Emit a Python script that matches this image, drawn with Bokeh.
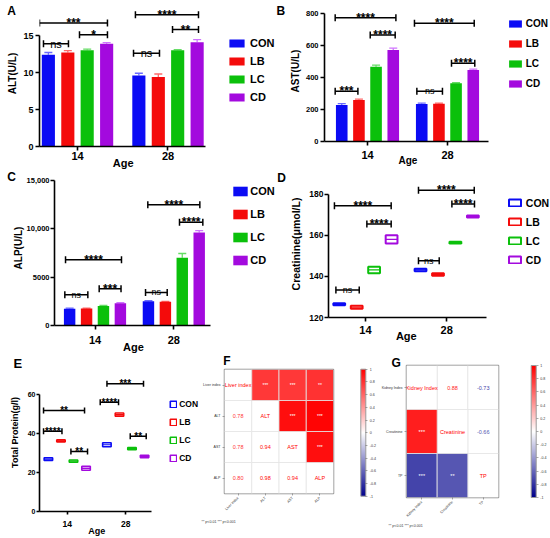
import math
from bokeh.plotting import figure
from bokeh.models import (Range1d, FixedTicker, Legend, LegendItem, ColumnDataSource, Title,
                          LinearColorMapper, ColorBar, Whisker, TeeHead, FactorRange,
                          PrintfTickFormatter)
from bokeh.layouts import row, column
from bokeh.transform import transform
from bokeh.core.properties import value
from bokeh.embed import file_html
from bokeh.resources import INLINE

FONT = "Liberation Sans"

# ----------------------------- data -----------------------------
groups = ["CON", "LB", "LC", "CD"]
age_labels = ["14", "28"]

# A  ALT (U/L)   order: CON, LB, LC, CD
alt_14 = [12.4, 12.7, 13.0, 13.9]
alt_28 = [9.6, 9.4, 13.0, 14.1]
alt_err_14 = [0.3, 0.25, 0.15, 0.15]
alt_err_28 = [0.3, 0.4, 0.1, 0.35]
alt_sig_x0 = [-0.376, 0.022, -0.42, 0.619, 1.05, 0.64]
alt_sig_x1 = [-0.10, 0.331, 0.331, 0.906, 1.337, 1.337]
alt_sig_y = [13.9, 15.1, 16.7, 12.6, 15.8, 17.8]
alt_sig_txt = ["ns", "*", "***", "ns", "**", "****"]

# B  AST (U/L)
ast_14 = [229, 260, 469, 573]
ast_28 = [235, 237, 365, 448]
ast_err_14 = [8, 6, 10, 12]
ast_err_28 = [5, 4, 3, 6]
ast_sig_x0 = [-0.404, 0.034, -0.404, 0.587, 0.617, 1.05]
ast_sig_x1 = [0.355, 0.346, -0.12, 1.334, 0.937, 1.341]
ast_sig_y = [775, 668, 315, 741, 315, 490]
ast_sig_txt = ["****", "****", "***", "****", "ns", "****"]

# C  ALP (U/L)
alp_14 = [1740, 1760, 2030, 2310]
alp_28 = [2520, 2450, 7000, 9620]
alp_err_14 = [50, 40, 40, 60]
alp_err_28 = [60, 50, 450, 200]
alp_sig_x0 = [-0.383, 0.053, -0.374, 0.641, 1.072, 0.67]
alp_sig_x1 = [-0.091, 0.33, 0.336, 0.916, 1.368, 1.33]
alp_sig_y = [3176, 3793, 6793, 3414, 10690, 12483]
alp_sig_txt = ["ns", "***", "****", "ns", "****", "****"]
alp_tick_labels = {0: "0", 5000: "5000", 10000: "10,000", 15000: "15,000"}

# D  Creatinine (umol/L) floating bars
cre_14 = [126.5, 125.0, 143.2, 158.1]
cre_28 = [143.2, 141.0, 156.5, 169.3]
cre_err_14 = [0.5, 0.7, 1.6, 2.0]
cre_err_28 = [0.6, 0.6, 0.4, 0.5]
cre_sig_x0 = [-0.363, 0.018, -0.381, 0.653, 1.064, 0.653]
cre_sig_x1 = [-0.076, 0.317, 0.317, 0.908, 1.342, 1.339]
cre_sig_y = [133.4, 165.6, 174.5, 147.7, 175.3, 182.1]
cre_sig_txt = ["ns", "****", "****", "ns", "****", "****"]

# E  Total protein (g/l) floating bars
tp_14 = [26.9, 36.3, 25.9, 22.2]
tp_28 = [34.3, 49.8, 32.3, 28.3]
tp_err_14 = [0.7, 0.5, 0.6, 1.0]
tp_err_28 = [1.0, 0.8, 0.6, 0.6]
tp_sig_x0 = [-0.405, -0.405, 0.063, 0.564, 0.679, 1.077]
tp_sig_x1 = [-0.09, 0.296, 0.347, 0.877, 1.304, 1.35]
tp_sig_y = [41.3, 51.9, 30.8, 56.2, 65.6, 38.7]
tp_sig_txt = ["****", "**", "**", "****", "***", "**"]

# F  liver correlations, pairs (0,1),(0,2),(0,3),(1,2),(1,3),(2,3)
liver_vars = ["Liver index", "ALT", "AST", "ALP"]
liver_pair_r = [0.78, 0.78, 0.80, 0.94, 0.98, 0.94]
liver_pair_sig = ["***", "***", "**", "***", "***", "***"]

# G  kidney correlations, pairs (0,1),(0,2),(1,2)
kidney_vars = ["Kidney Index", "Creatinine", "TP"]
kidney_pair_r = [0.88, -0.73, -0.66]
kidney_pair_sig = ["***", "***", "**"]

cbar_ticks = [-1, -0.8, -0.6, -0.4, -0.2, 0, 0.2, 0.4, 0.6, 0.8, 1]
footnote = "** p<0.01  *** p<0.001"

# ----------------------------- style -----------------------------
colors = ["#0b0bf4", "#f40b0b", "#0bc00b", "#a30ade"]
err_colors = ["#6a6aff", "#ff6a6a", "#66dd66", "#cf73ff"]
offsets = [-0.322, -0.107, 0.107, 0.322]
BAR_W = 0.145


def make_palette():
    lo, mid, hi = (0x00, 0x00, 0x8B), (255, 255, 255), (0xFF, 0x00, 0x00)
    pal = []
    for k in range(256):
        t = k / 255
        a, b, u = (lo, mid, t / 0.5) if t < 0.5 else (mid, hi, (t - 0.5) / 0.5)
        pal.append("#%02x%02x%02x" % tuple(round(a[c] + (b[c] - a[c]) * u) for c in range(3)))
    return pal


PALETTE = make_palette()
BLANK_MAPPER = LinearColorMapper(palette=["#ffffff"], low=0, high=1)


def base(W, H, bl, bt, br, bb, xr, yr):
    p = figure(width=W, height=H, x_range=xr, y_range=yr,
               output_backend="svg", toolbar_location=None, frame_align=False,
               min_border_left=bl, min_border_top=bt, min_border_right=br, min_border_bottom=bb)
    p.outline_line_color = None
    p.xgrid.visible = False
    p.ygrid.visible = False
    p.background_fill_color = "white"
    p.border_fill_color = "white"
    return p


def tag(p, txt, left, cy, fs, bold=True, color="black"):
    """Free text placed outside the frame (px from frame bottom-left): the title of an
    empty, invisible horizontal colour bar, which Bokeh does not clip to the frame."""
    cb = ColorBar(color_mapper=BLANK_MAPPER, orientation="horizontal",
                  location=(left, cy - 1 - 0.56 * fs), width=1, height=1,
                  padding=0, margin=0, title=txt, title_standoff=0,
                  title_text_font=FONT, title_text_font_size=f"{fs}px",
                  title_text_font_style="bold" if bold else "normal", title_text_color=color,
                  ticker=FixedTicker(ticks=[]), major_tick_line_color=None,
                  minor_tick_line_color=None, major_label_text_alpha=0, bar_line_color=None,
                  scale_alpha=0, background_fill_alpha=0, border_line_color=None)
    p.add_layout(cb)


def ytitle(p, txt, fs, standoff, offset):
    p.add_layout(Title(text=txt, align="center", offset=offset, standoff=standoff,
                       text_font=FONT, text_font_style="bold", text_font_size=f"{fs}px",
                       text_color="black"), "left")


def style_axes(p, xb, yb, yticks, ytfs, xtfs, y_sd, x_sd, yover=None, tick_out=4):
    xa, ya = p.xaxis[0], p.yaxis[0]
    xa.ticker = FixedTicker(ticks=[0, 1])
    xa.major_label_overrides = {0: age_labels[0], 1: age_labels[1]}
    xa.bounds = xb
    ya.bounds = yb
    ya.ticker = FixedTicker(ticks=yticks)
    if yover:
        ya.major_label_overrides = yover
    for ax in (xa, ya):
        ax.axis_line_width = 1.6
        ax.axis_line_color = "black"
        ax.major_tick_line_width = 1.6
        ax.major_tick_in = 0
        ax.major_tick_out = tick_out
        ax.minor_tick_line_color = None
        ax.major_label_text_font = FONT
        ax.major_label_text_font_style = "bold"
        ax.major_label_text_color = "black"
    ya.major_label_text_font_size = f"{ytfs}px"
    xa.major_label_text_font_size = f"{xtfs}px"
    ya.major_label_standoff = y_sd
    xa.major_label_standoff = x_sd


def bars(p, m14, m28, e14, e28, head=8):
    rends = []
    for k in range(4):
        xs = [0 + offsets[k], 1 + offsets[k]]
        tops = [m14[k], m28[k]]
        ups = [m14[k] + e14[k], m28[k] + e28[k]]
        src = ColumnDataSource(dict(x=xs, top=tops, up=ups))
        w = Whisker(base="x", lower="top", upper="up", source=src, line_color=err_colors[k],
                    line_width=1.3, lower_head=None,
                    upper_head=TeeHead(size=head, line_color=err_colors[k], line_width=1.3))
        p.add_layout(w)
        r = p.vbar(x="x", top="top", bottom=0, width=BAR_W, source=src,
                   fill_color=colors[k], line_color=None)
        rends.append(r)
    return rends


def floats(p, m14, m28, e14, e28, lw=1.8):
    rends = []
    for k in range(4):
        xs = [0 + offsets[k], 1 + offsets[k]]
        ms = [m14[k], m28[k]]
        es = [e14[k], e28[k]]
        src = ColumnDataSource(dict(
            x=xs, m=ms,
            lo=[m - e for m, e in zip(ms, es)], hi=[m + e for m, e in zip(ms, es)],
            x0=[x - BAR_W / 2 for x in xs], x1=[x + BAR_W / 2 for x in xs]))
        r = p.vbar(x="x", bottom="lo", top="hi", width=BAR_W, source=src,
                   fill_color=None, line_color=colors[k], line_width=lw)
        p.segment(x0="x0", x1="x1", y0="m", y1="m", source=src, line_color=colors[k], line_width=1.2)
        rends.append(r)
    return rends


def sig(p, x0, x1, y, txt, star_fs, ns_fs, cap=7):
    p.segment(x0=x0, x1=x1, y0=y, y1=y, line_color="black", line_width=1.5)
    p.scatter(x=list(x0) + list(x1), y=list(y) + list(y), marker="dash", size=cap,
              angle=math.pi / 2, line_color="black", line_width=1.5)
    mids = [(a + b) / 2 for a, b in zip(x0, x1)]
    st = [(m, yy, t) for m, yy, t in zip(mids, y, txt) if t != "ns"]
    ns = [(m, yy, t) for m, yy, t in zip(mids, y, txt) if t == "ns"]
    p.text(x=[s[0] for s in st], y=[s[1] for s in st], text=[s[2] for s in st],
           text_font=value(FONT), text_font_style="bold", text_font_size=f"{star_fs}px",
           text_align="center", text_baseline="middle", text_color="black")
    if ns:
        p.text(x=[s[0] for s in ns], y=[s[1] for s in ns], text=[s[2] for s in ns],
               text_font=value(FONT), text_font_size=f"{ns_fs}px",
               text_align="center", text_baseline="alphabetic", text_color="black")


def legend(p, rends, x, ytop, pitch, gw, gh, fs, standoff):
    items = [LegendItem(label=g, renderers=[r]) for g, r in zip(groups, rends)]
    n = len(items)
    bottom = ytop - (n - 1) * pitch - pitch / 2
    lg = Legend(items=items, location=(x, bottom), orientation="vertical", padding=0, margin=0,
                spacing=0, label_height=int(round(pitch)), glyph_height=int(round(gh)),
                glyph_width=int(round(gw)), label_standoff=int(round(standoff)),
                label_text_font=FONT, label_text_font_style="bold",
                label_text_font_size=f"{fs}px", label_text_color="black",
                border_line_color=None, background_fill_alpha=0)
    p.add_layout(lg)


# ----------------------------- A -----------------------------
pA = base(275, 170, 39, 0, 0, 24, Range1d(-0.42, 2.188), Range1d(0, 19.73))
style_axes(pA, (-0.42, 1.414), (0, 15), [0, 5, 10, 15], 9, 11, 2, 1)
rA = bars(pA, alt_14, alt_28, alt_err_14, alt_err_28)
sig(pA, alt_sig_x0, alt_sig_x1, alt_sig_y, alt_sig_txt, 12, 11)
legend(pA, rA, 188.1, 103, 18, 19, 10, 11, 4)
ytitle(pA, "ALT(U/L)", 10, 6, -18)
tag(pA, "A", -32.3, 135, 12)
tag(pA, "Age", 73.3, -16, 11)

# ----------------------------- B -----------------------------
pB = base(275, 170, 49, 0, 0, 29, Range1d(-0.5375, 2.2875), Range1d(0, 883.5))
style_axes(pB, (-0.5375, 1.509), (0, 800), [0, 200, 400, 600, 800], 7.5, 11, 2, 5)
rB = bars(pB, ast_14, ast_28, ast_err_14, ast_err_28)
sig(pB, ast_sig_x0, ast_sig_x1, ast_sig_y, ast_sig_txt, 12, 9)
legend(pB, rB, 182.7, 118, 20, 16, 9, 10, 3)
ytitle(pB, "AST(U/L)", 10, 4, -3)
tag(pB, "B", -48, 130, 12)
tag(pB, "Age", 74, -19.3, 10)

# ----------------------------- C -----------------------------
pC = base(275, 183, 54, 0, 0, 28, Range1d(-0.514, 2.29), Range1d(0, 16034))
style_axes(pC, (-0.514, 1.466), (0, 15000), [0, 5000, 10000, 15000], 7.5, 11, 1, 6,
           yover=alp_tick_labels)
rC = bars(pC, alp_14, alp_28, alp_err_14, alp_err_28)
sig(pC, alp_sig_x0, alp_sig_x1, alp_sig_y, alp_sig_txt, 12, 9)
legend(pC, rC, 177.2, 133.7, 23, 18, 12, 11, 1)
ytitle(pC, "ALP(U/L)", 10, 0, -11)
tag(pC, "C", -47.3, 148, 12)
tag(pC, "Age", 68.6, -21.5, 11)

# ----------------------------- D -----------------------------
pD = base(275, 183, 53, 0, 0, 36, Range1d(-0.454, 2.277), Range1d(120, 191.7))
style_axes(pD, (-0.454, 1.486), (120, 180), [120, 140, 160, 180], 8.5, 11, 1, 4)
rD = floats(pD, cre_14, cre_28, cre_err_14, cre_err_28, lw=2)
sig(pD, cre_sig_x0, cre_sig_x1, cre_sig_y, cre_sig_txt, 12, 9)
legend(pD, rD, 178.8, 114.5, 19, 15, 9, 10.5, 4)
ytitle(pD, "Creatinine(μmol/L)", 10.5, 9, -9)
tag(pD, "D", -51.3, 139.5, 12)
tag(pD, "Age", 67.4, -18, 11)

# ----------------------------- E -----------------------------
pE = base(200, 185, 39, 0, 0, 27, Range1d(-0.474, 2.278), Range1d(0, 81.2))
style_axes(pE, (-0.474, 1.448), (0, 60), [0, 20, 40, 60], 7, 8.5, 1, 6, tick_out=3)
rE = floats(pE, tp_14, tp_28, tp_err_14, tp_err_28, lw=1.6)
sig(pE, tp_sig_x0, tp_sig_x1, tp_sig_y, tp_sig_txt, 10, 9, cap=6)
legend(pE, rE, 130.2, 107.5, 18, 8, 8, 8.5, 2)
ytitle(pE, "Total Protein(g/l)", 9, 9, -23)
tag(pE, "E", -26.1, 148, 13)
tag(pE, "Age", 48.8, -19, 9)


# ----------------------------- F / G heatmaps -----------------------------
def corr_panel(vars_, pair_r, pair_sig, numbers_below, W, H, bl, bt, br, bb, fs, star_fs,
               cb_x, cb_y, cb_h, let, lx, ly, nx, ny):
    n = len(vars_)
    pairs = [(i, j) for i in range(n) for j in range(i + 1, n)]
    p = base(W, H, bl, bt, br, bb, FactorRange(factors=vars_), FactorRange(factors=vars_[::-1]))
    p.outline_line_color = "#8a8a8a"
    p.outline_line_width = 1.5
    mapper = LinearColorMapper(palette=PALETTE, low=-1, high=1)
    num = dict(x=[], y=[], r=[], t=[])
    col = dict(x=[], y=[], r=[], t=[])
    for (i, j), r, s in zip(pairs, pair_r, pair_sig):
        if numbers_below:
            nxy, cxy = (vars_[i], vars_[j]), (vars_[j], vars_[i])
        else:
            nxy, cxy = (vars_[j], vars_[i]), (vars_[i], vars_[j])
        num["x"].append(nxy[0]); num["y"].append(nxy[1]); num["r"].append(r); num["t"].append(f"{r:.2f}")
        col["x"].append(cxy[0]); col["y"].append(cxy[1]); col["r"].append(r); col["t"].append(s)
    diag = dict(x=list(vars_), y=list(vars_), r=[1.0] * n, t=list(vars_))
    white = {k: num[k] + diag[k] for k in num}
    p.rect(x="x", y="y", width=1, height=1, source=ColumnDataSource(white),
           fill_color="white", line_color="#e4e4e4", line_width=0.8)
    p.rect(x="x", y="y", width=1, height=1, source=ColumnDataSource(col),
           fill_color=transform("r", mapper), line_color="#e4e4e4", line_width=0.8)
    for d, c in ((num, None), (diag, None), (col, "white")):
        p.text(x="x", y="y", text="t", source=ColumnDataSource(d),
               text_color=transform("r", mapper) if c is None else c,
               text_font=value(FONT), text_font_size=f"{fs if c is None else star_fs}px",
               text_align="center", text_baseline="middle")
    for ax in (p.xaxis[0], p.yaxis[0]):
        ax.axis_line_color = None
        ax.major_tick_line_color = "#555555"
        ax.major_tick_line_width = 0.5
        ax.major_tick_in = 0
        ax.major_tick_out = 2
        ax.minor_tick_line_color = None
        ax.major_label_text_font = FONT
        ax.major_label_text_font_size = "3.6px"
        ax.major_label_text_color = "#333333"
        ax.major_label_standoff = 2
    p.xaxis[0].major_label_orientation = math.pi / 4
    cb = ColorBar(color_mapper=mapper, location=(cb_x, cb_y), width=5, height=int(round(cb_h)),
                  padding=0, margin=0, ticker=FixedTicker(ticks=cbar_ticks),
                  formatter=PrintfTickFormatter(format="%g"),
                  major_label_text_font=FONT, major_label_text_font_size="3.6px",
                  major_label_text_color="#333333",
                  major_tick_in=0, major_tick_out=2, major_tick_line_color="#555555",
                  major_tick_line_width=0.5, label_standoff=2, bar_line_color="#9a9a9a",
                  background_fill_alpha=0, border_line_color=None)
    p.add_layout(cb)
    tag(p, let, lx, ly, 12)
    tag(p, footnote, nx, ny, 3.6, bold=False, color="#333333")
    return p


pF = corr_panel(liver_vars, liver_pair_r, liver_pair_sig, True, 178, 185, 23, 16, 45, 45,
                5.5, 5, 136.3, -2.7, 127, "F", -1.2, 132, -23, -28)
pG = corr_panel(kidney_vars, kidney_pair_r, kidney_pair_sig, False, 172, 185, 20, 12, 52, 41,
                5.5, 5.5, 124.7, 0, 132, "G", -15, 134.5, -18, -28)

layout = column(row(pA, pB), row(pC, pD), row(pE, pF, pG))
open("out.html", "w").write(file_html(layout, INLINE, title="Serum biochemistry"))
